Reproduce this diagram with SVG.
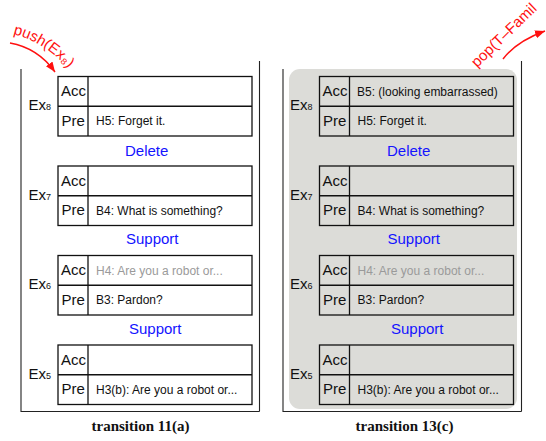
<svg xmlns="http://www.w3.org/2000/svg" width="546" height="441" viewBox="0 0 546 441">
<defs>
<style>
.frame{fill:none;stroke:#222;stroke-width:1.1}
.box{fill:none;stroke:#111;stroke-width:1.3}
.lbl{font-family:"Liberation Sans",Arial,sans-serif;font-size:15px;fill:#111}
.sub{font-size:9px}
.cell{font-family:"Liberation Sans",Arial,sans-serif;font-size:15px;fill:#111}
.txt{font-family:"Liberation Sans",Arial,sans-serif;font-size:12px;fill:#111}
.dim{fill:#9a9a9a}
.rel{font-family:"Liberation Sans",Arial,sans-serif;font-size:15px;fill:#1414ff}
.red{font-family:"Liberation Sans","DejaVu Sans",Arial,sans-serif;font-size:15px;fill:#ff1010}
.arrow{fill:none;stroke:#ff1010;stroke-width:1.5}
.title{font-family:"Liberation Serif","Times New Roman",serif;font-size:15px;font-weight:bold;fill:#111}
</style>
<marker id="ah" markerUnits="userSpaceOnUse" markerWidth="11" markerHeight="9" refX="10" refY="4" orient="auto">
<path d="M0,0 L10,4 L0,8 z" fill="#ff1010"/>
</marker>
<path id="pushPath" d="M 13 34 Q 43 41 68 68"/>
</defs>

<!-- panel frames -->
<g id="panelA">
<polyline class="frame" points="21,69 21,411.5 259.5,411.5"/>
<line class="frame" x1="259.5" y1="61" x2="259.5" y2="411.5"/>
</g>
<g id="panelC">
<rect x="289" y="69" width="228" height="340" rx="11" fill="#dcdcd8"/>
<polyline class="frame" points="283,69 283,411.5 521.5,411.5"/>
<line class="frame" x1="521.5" y1="61" x2="521.5" y2="411.5"/>
</g>

<!-- left panel nodes -->
<g id="a-ex8">
<rect class="box" x="58" y="76.5" width="194" height="59.5"/>
<line class="box" x1="58" y1="106.25" x2="252" y2="106.25"/>
<line class="box" x1="88" y1="76.5" x2="88" y2="136"/>
<text class="lbl" x="28.5" y="110">Ex<tspan class="sub">8</tspan></text>
<text class="cell" x="61" y="96">Acc</text>
<text class="cell" x="61.5" y="125.5">Pre</text>
<text class="txt" x="96" y="125">H5: Forget it.</text>
</g>
<g id="a-ex7">
<rect class="box" x="58" y="166" width="194" height="59.5"/>
<line class="box" x1="58" y1="195.75" x2="252" y2="195.75"/>
<line class="box" x1="88" y1="166" x2="88" y2="225.5"/>
<text class="lbl" x="28.5" y="199.5">Ex<tspan class="sub">7</tspan></text>
<text class="cell" x="61" y="185.5">Acc</text>
<text class="cell" x="61.5" y="215">Pre</text>
<text class="txt" x="96" y="214.5">B4: What is something?</text>
</g>
<g id="a-ex6">
<rect class="box" x="58" y="255.5" width="194" height="59.5"/>
<line class="box" x1="58" y1="285.25" x2="252" y2="285.25"/>
<line class="box" x1="88" y1="255.5" x2="88" y2="315"/>
<text class="lbl" x="28.5" y="289">Ex<tspan class="sub">6</tspan></text>
<text class="cell" x="61" y="275">Acc</text>
<text class="cell" x="61.5" y="304.5">Pre</text>
<text class="txt dim" x="96" y="274.5">H4: Are you a robot or...</text>
<text class="txt" x="96" y="304">B3: Pardon?</text>
</g>
<g id="a-ex5">
<rect class="box" x="58" y="345" width="194" height="59.5"/>
<line class="box" x1="58" y1="374.75" x2="252" y2="374.75"/>
<line class="box" x1="88" y1="345" x2="88" y2="404.5"/>
<text class="lbl" x="28.5" y="378.5">Ex<tspan class="sub">5</tspan></text>
<text class="cell" x="61" y="364.5">Acc</text>
<text class="cell" x="61.5" y="394">Pre</text>
<text class="txt" x="96" y="393.5">H3(b): Are you a robot or...</text>
</g>

<!-- right panel nodes -->
<g id="c-ex8">
<rect class="box" x="319.5" y="76.5" width="194" height="59.5"/>
<line class="box" x1="319.5" y1="106.25" x2="513.5" y2="106.25"/>
<line class="box" x1="349.5" y1="76.5" x2="349.5" y2="136"/>
<text class="lbl" x="290" y="110">Ex<tspan class="sub">8</tspan></text>
<text class="cell" x="322.5" y="96">Acc</text>
<text class="cell" x="323" y="125.5">Pre</text>
<text class="txt" x="357" y="95.5">B5: (looking embarrassed)</text>
<text class="txt" x="357.5" y="125">H5: Forget it.</text>
</g>
<g id="c-ex7">
<rect class="box" x="319.5" y="166" width="194" height="59.5"/>
<line class="box" x1="319.5" y1="195.75" x2="513.5" y2="195.75"/>
<line class="box" x1="349.5" y1="166" x2="349.5" y2="225.5"/>
<text class="lbl" x="290" y="199.5">Ex<tspan class="sub">7</tspan></text>
<text class="cell" x="322.5" y="185.5">Acc</text>
<text class="cell" x="323" y="215">Pre</text>
<text class="txt" x="357.5" y="214.5">B4: What is something?</text>
</g>
<g id="c-ex6">
<rect class="box" x="319.5" y="255.5" width="194" height="59.5"/>
<line class="box" x1="319.5" y1="285.25" x2="513.5" y2="285.25"/>
<line class="box" x1="349.5" y1="255.5" x2="349.5" y2="315"/>
<text class="lbl" x="290" y="289">Ex<tspan class="sub">6</tspan></text>
<text class="cell" x="322.5" y="275">Acc</text>
<text class="cell" x="323" y="304.5">Pre</text>
<text class="txt dim" x="357.5" y="274.5">H4: Are you a robot or...</text>
<text class="txt" x="357.5" y="304">B3: Pardon?</text>
</g>
<g id="c-ex5">
<rect class="box" x="319.5" y="345" width="194" height="59.5"/>
<line class="box" x1="319.5" y1="374.75" x2="513.5" y2="374.75"/>
<line class="box" x1="349.5" y1="345" x2="349.5" y2="404.5"/>
<text class="lbl" x="290" y="378.5">Ex<tspan class="sub">5</tspan></text>
<text class="cell" x="322.5" y="364.5">Acc</text>
<text class="cell" x="323" y="394">Pre</text>
<text class="txt" x="357.5" y="393.5">H3(b): Are you a robot or...</text>
</g>

<!-- connectors: relation labels and stack operations -->
<g id="connectors">
<text class="rel" x="125" y="155.5">Delete</text>
<text class="rel" x="126" y="244">Support</text>
<text class="rel" x="129" y="334">Support</text>
<text class="rel" x="387" y="155.5">Delete</text>
<text class="rel" x="387.5" y="244">Support</text>
<text class="rel" x="391" y="334">Support</text>
<path class="arrow" d="M 10 43 Q 38 48 55 72" marker-end="url(#ah)"/>
<text class="red"><textPath href="#pushPath">push(Ex₈)</textPath></text>
<path class="arrow" d="M 503 59 Q 517 41 545 31" marker-end="url(#ah)"/>
<text class="red" transform="translate(477,68) rotate(-44)" x="0" y="0">pop(T–Famil</text>
</g>

<text class="title" x="140.5" y="430.5" text-anchor="middle">transition 11(a)</text>
<text class="title" x="404.5" y="430.5" text-anchor="middle">transition 13(c)</text>
</svg>
